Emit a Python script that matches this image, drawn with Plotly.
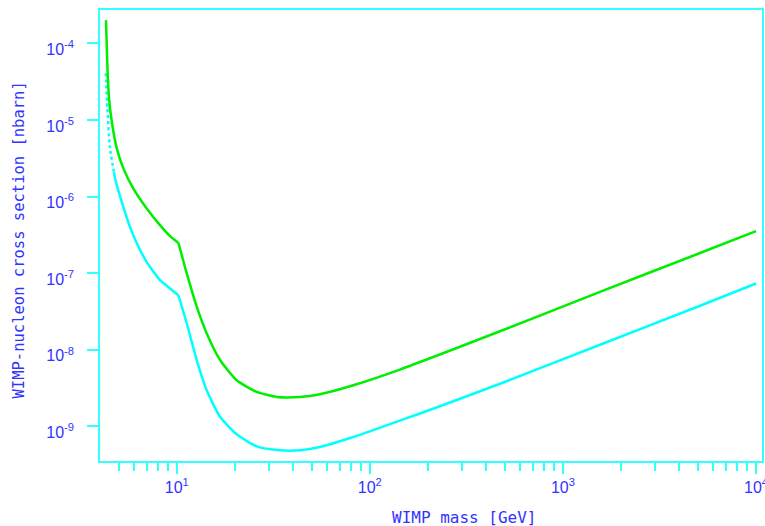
import plotly.graph_objects as go

# ---- data ----
green_mass = [4.30, 4.37, 4.46, 4.61, 4.89, 5.29, 5.96, 6.99, 8.19, 9.23, 10.2,
              11.27, 12.7, 14.3, 16.8, 20.45, 25.96, 32.96, 43.5, 55.2, 82.1, 143,
              472, 1556, 5130, 10000]
green_sigma = [2.01e-4, 5.21e-5, 1.91e-5, 9.46e-6, 4.25e-6, 2.33e-6, 1.27e-6, 6.99e-7,
               4.23e-7, 3.04e-7, 2.48e-7,
               9.9e-8, 3.62e-8, 1.63e-8, 7.28e-9, 3.99e-9, 2.81e-9, 2.42e-9, 2.42e-9,
               2.62e-9, 3.43e-9, 5.5e-9, 1.74e-8, 5.69e-8, 1.83e-7, 3.53e-7]
green_kink = 10.2

cyan_mass = [4.29, 4.37, 4.51, 4.73, 4.79, 5.19, 5.73, 6.21, 6.99, 7.56, 8.19, 9.23, 10.2,
             11.27, 12.7, 14.3, 16.8, 20.45, 25.96, 34.3, 43.5, 55.2, 82.1, 122, 182,
             472, 1556, 5130, 10000]
cyan_sigma = [4.06e-5, 1.42e-5, 4.25e-6, 2.08e-6, 1.72e-6, 8.52e-7, 3.98e-7, 2.46e-7,
              1.39e-7, 1.05e-7, 8.07e-8, 6.3e-8, 5.14e-8,
              2.2e-8, 7.28e-9, 2.95e-9, 1.32e-9, 7.85e-10, 5.48e-10, 4.87e-10, 4.87e-10,
              5.37e-10, 7.24e-10, 1.03e-9, 1.47e-9, 3.59e-9, 1.16e-8, 3.75e-8, 7.31e-8]
cyan_dotted_until = 4.73  # mass up to which the cyan curve is dotted
cyan_kink = 10.2

x_major_vals = [10, 100, 1000, 10000]
x_major_text = ["10<sup>1</sup>", "10<sup>2</sup>", "10<sup>3</sup>", "10<sup>4</sup>"]
x_minor_vals = [4, 5, 6, 7, 8, 9, 20, 30, 40, 50, 60, 70, 80, 90,
                200, 300, 400, 500, 600, 700, 800, 900,
                2000, 3000, 4000, 5000, 6000, 7000, 8000, 9000]
y_major_vals = [1e-4, 1e-5, 1e-6, 1e-7, 1e-8, 1e-9]
y_major_text = ["10<sup>-4</sup>", "10<sup>-5</sup>", "10<sup>-6</sup>",
                "10<sup>-7</sup>", "10<sup>-8</sup>", "10<sup>-9</sup>"]

x_title = "WIMP mass [GeV]"
y_title = "WIMP-nucleon cross section [nbarn]"

# ---- styling ----
GREEN = "#00ee00"
CYAN = "#00ffff"
FRAME = "#33ffff"
BLUE = "#3333ff"


def segment(xs, ys, lo, hi):
    idx = [i for i, m in enumerate(xs) if lo <= m <= hi]
    return [xs[i] for i in idx], [ys[i] for i in idx]


fig = go.Figure()


def add(xs, ys, color, dash="solid"):
    fig.add_trace(go.Scatter(x=xs, y=ys, mode="lines",
                             line=dict(color=color, width=2.5, dash=dash,
                                       shape="spline", smoothing=0.6),
                             showlegend=False, hoverinfo="skip"))


# cyan: dotted start, solid to kink, solid after kink
add(*segment(cyan_mass, cyan_sigma, 0, cyan_dotted_until), CYAN, "dot")
add(*segment(cyan_mass, cyan_sigma, cyan_dotted_until, cyan_kink), CYAN)
add(*segment(cyan_mass, cyan_sigma, cyan_kink, 1e9), CYAN)
# green: before and after kink
add(*segment(green_mass, green_sigma, 0, green_kink), GREEN)
add(*segment(green_mass, green_sigma, green_kink, 1e9), GREEN)

fig.update_layout(
    width=765, height=526,
    margin=dict(l=100, r=3, t=10, b=65, autoexpand=False),
    paper_bgcolor="white", plot_bgcolor="white",
    font=dict(family="Liberation Sans, Arial, sans-serif", color=BLUE, size=16),
)
fig.update_xaxes(
    type="log", range=[0.6025, 4.031], automargin=False,
    showgrid=False, zeroline=False,
    showline=True, linecolor=FRAME, linewidth=1.5, mirror=True,
    tickmode="array", tickvals=x_major_vals, ticktext=x_major_text,
    ticks="outside", ticklen=11, tickwidth=1.5, tickcolor=FRAME,
    minor=dict(tickmode="array", tickvals=x_minor_vals, ticks="outside",
               ticklen=8, tickwidth=1.5, tickcolor=FRAME, showgrid=False),
    tickfont=dict(size=16, color=BLUE),
    ticklabeloverflow="allow",
)
fig.update_yaxes(
    type="log", range=[-9.453, -3.565], automargin=False,
    showgrid=False, zeroline=False,
    showline=True, linecolor=FRAME, linewidth=1.5, mirror=True,
    tickmode="array", tickvals=y_major_vals, ticktext=y_major_text,
    ticks="outside", ticklen=11, tickwidth=2, tickcolor=FRAME,
    tickfont=dict(size=16, color=BLUE),
    ticklabelstandoff=10, ticklabelshift=6,
)

mono = "DejaVu Sans Mono, monospace"
fig.add_annotation(text=x_title, xref="paper", yref="paper", x=0.55, y=0,
                   xanchor="center", yanchor="middle", yshift=-56, showarrow=False,
                   font=dict(family=mono, size=16, color=BLUE))
fig.add_annotation(text=y_title, xref="paper", yref="paper", x=0, y=0.5,
                   xanchor="center", yanchor="middle", xshift=-82, yshift=-5,
                   textangle=-90, showarrow=False,
                   font=dict(family=mono, size=15.5, color=BLUE))

fig.write_html("out.html", config={"displayModeBar": False},
               post_script="document.body.style.margin='0';document.body.style.overflow='hidden';")
